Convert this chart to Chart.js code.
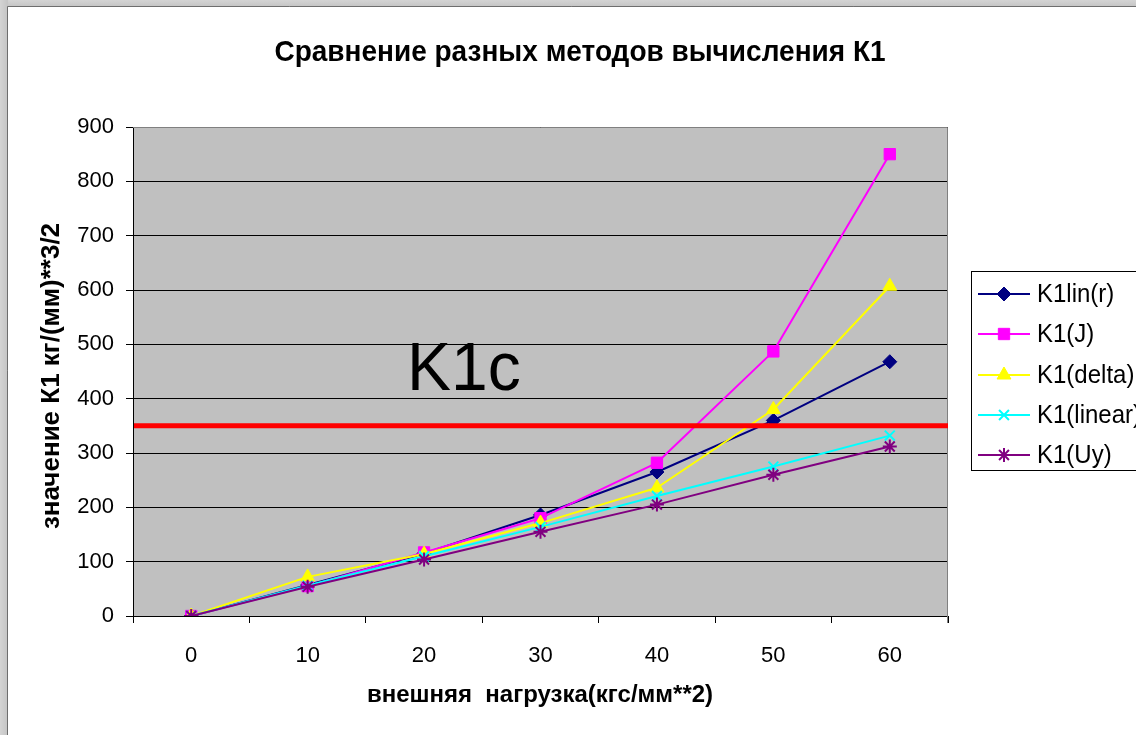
<!DOCTYPE html>
<html>
<head>
<meta charset="utf-8">
<title>Сравнение разных методов вычисления К1</title>
<script src="https://cdn.jsdelivr.net/npm/chart.js@4.4.0/dist/chart.umd.min.js"></script>
<style>
  html, body { margin: 0; padding: 0; background: #ffffff; }
  #wrap { position: relative; width: 1136px; height: 735px; }
</style>
</head>
<body>
<div id="wrap"><canvas id="c" width="1136" height="735"></canvas></div>
<script>
// External load, kgf/mm^2
const loads = ['0', '10', '20', '30', '40', '50', '60'];

// K1 values by each method, kgf/(mm)^(3/2)
const k1LinR   = [0, 57, 115, 186, 265, 360, 468];
const k1J      = [0, 55, 117, 180, 282, 487, 850];
const k1Delta  = [0, 72, 114, 171, 236, 380, 607];
const k1Linear = [0, 56, 110, 164, 221, 275, 332];
const k1Uy     = [0, 54, 104, 155, 205, 260, 312];

// Critical value K1c
const K1C = 350;

const seriesNames = ['K1lin(r)', 'K1(J)', 'K1(delta)', 'K1(linear)', 'K1(Uy)'];
const yTicks = [0, 100, 200, 300, 400, 500, 600, 700, 800, 900];

const FONT = '"Liberation Sans", Arial, Helvetica, sans-serif';

function series(label, data, color, style, radius, order) {
  const stroked = (style === 'crossRot' || style === 'star');
  return {
    label, data,
    borderColor: color,
    backgroundColor: color,
    borderWidth: 2,
    pointStyle: style,
    pointRadius: radius,
    pointHoverRadius: radius,
    pointBorderWidth: stroked ? 2 : 1,
    pointBorderColor: color,
    pointBackgroundColor: color,
    tension: 0,
    order
  };
}

const datasets = [
  series(seriesNames[0], k1LinR,   '#000080', 'rectRot',  7, 5),
  series(seriesNames[1], k1J,      '#FF00FF', 'rect',     8, 4),
  series(seriesNames[2], k1Delta,  '#FFFF00', 'triangle', 8, 3),
  series(seriesNames[3], k1Linear, '#00FFFF', 'crossRot', 7, 2),
  series(seriesNames[4], k1Uy,     '#800080', 'star',     7, 1)
];

const legendRows = [294, 334, 375, 415, 455];

// Text drawn with a slight vertical stretch, like the sheet's fonts
function tallText(ctx, text, x, y, sy) {
  ctx.save();
  ctx.translate(x, y);
  ctx.scale(1, sy);
  ctx.fillText(text, 0, 0);
  ctx.restore();
}

// Window frame, plot background, K1c line, titles and legend
const decor = {
  id: 'decor',
  beforeDraw(chart) {
    const ctx = chart.ctx;
    const W = chart.width, H = chart.height;
    ctx.save();
    ctx.fillStyle = '#ffffff';
    ctx.fillRect(0, 0, W, H);
    let g = ctx.createLinearGradient(0, 0, 0, 7);
    g.addColorStop(0, '#d4d4d4');
    g.addColorStop(1, '#c4c4c4');
    ctx.fillStyle = g;
    ctx.fillRect(0, 0, W, 7);
    g = ctx.createLinearGradient(0, 0, 8, 0);
    g.addColorStop(0, '#d4d4d4');
    g.addColorStop(1, '#c4c4c4');
    ctx.fillStyle = g;
    ctx.fillRect(0, 0, 8, H);
    ctx.strokeStyle = '#6e6e6e';
    ctx.lineWidth = 1;
    ctx.beginPath();
    ctx.moveTo(7.5, H); ctx.lineTo(7.5, 6.5); ctx.lineTo(W, 6.5);
    ctx.stroke();

    const a = chart.chartArea;
    ctx.fillStyle = '#C0C0C0';
    ctx.fillRect(a.left, a.top, a.right - a.left, a.bottom - a.top);
    ctx.restore();
  },
  beforeDatasetsDraw(chart) {
    const ctx = chart.ctx;
    const a = chart.chartArea;
    ctx.save();
    ctx.strokeStyle = '#808080';
    ctx.lineWidth = 1;
    ctx.beginPath();
    ctx.moveTo(a.left, a.top + 0.5);
    ctx.lineTo(a.right - 0.5, a.top + 0.5);
    ctx.lineTo(a.right - 0.5, a.bottom + 7);
    ctx.stroke();
    ctx.restore();
  },
  afterDatasetsDraw(chart) {
    const ctx = chart.ctx;
    const a = chart.chartArea;
    const yc = chart.scales.y.getPixelForValue(K1C);
    ctx.save();
    // K1c level
    ctx.strokeStyle = '#FF0000';
    ctx.lineWidth = 5;
    ctx.beginPath();
    ctx.moveTo(a.left + 1, yc);
    ctx.lineTo(a.right, yc);
    ctx.stroke();
    ctx.fillStyle = '#000000';
    ctx.font = '66px ' + FONT;
    ctx.textAlign = 'left';
    ctx.textBaseline = 'alphabetic';
    tallText(ctx, 'K1c', 407, yc - 36, 1.03);

    // chart title
    ctx.font = 'bold 28px ' + FONT;
    ctx.textAlign = 'center';
    ctx.textBaseline = 'middle';
    tallText(ctx, 'Сравнение разных методов вычисления К1', 580, 53, 1.05);

    // axis titles
    ctx.font = 'bold 24px ' + FONT;
    tallText(ctx, 'внешняя  нагрузка(кгс/мм**2)', 540, 695, 1.0);
    ctx.save();
    ctx.translate(52, 376);
    ctx.rotate(-Math.PI / 2);
    ctx.font = 'bold 26px ' + FONT;
    ctx.fillText('значение К1 кг/(мм)**3/2', 0, 0);
    ctx.restore();

    // legend box and entries
    ctx.strokeStyle = '#000000';
    ctx.lineWidth = 1;
    ctx.strokeRect(971.5, 271.5, 200, 199);
    ctx.textAlign = 'left';
    chart.data.datasets.forEach((ds, i) => {
      const ly = legendRows[i];
      ctx.strokeStyle = ds.borderColor;
      ctx.lineWidth = 2;
      ctx.beginPath();
      ctx.moveTo(978, ly);
      ctx.lineTo(1030, ly);
      ctx.stroke();
      ctx.fillStyle = '#000000';
      ctx.font = '24px ' + FONT;
      ctx.textBaseline = 'middle';
      tallText(ctx, ds.label, 1037, ly + 1, 1.05);
    });
    ctx.restore();
  },
  afterDraw(chart) {
    const ctx = chart.ctx;
    chart.data.datasets.forEach((ds, i) => {
      ctx.save();
      ctx.fillStyle = ds.borderColor;
      ctx.strokeStyle = ds.borderColor;
      ctx.lineWidth = ds.pointBorderWidth;
      Chart.helpers.drawPoint(ctx, {
        pointStyle: ds.pointStyle,
        radius: ds.pointRadius,
        rotation: 0,
        borderWidth: ds.pointBorderWidth
      }, 1004, legendRows[i]);
      ctx.restore();
    });
  }
};

new Chart(document.getElementById('c'), {
  type: 'line',
  data: { labels: loads, datasets },
  plugins: [decor],
  options: {
    responsive: false,
    animation: false,
    devicePixelRatio: 1,
    layout: { padding: { left: 0, top: 127, right: 188, bottom: 0 } },
    plugins: {
      legend: { display: false },
      title: { display: false },
      tooltip: { enabled: false }
    },
    elements: { line: { borderJoinStyle: 'round' } },
    scales: {
      x: {
        type: 'category',
        offset: true,
        afterFit(scale) { scale.height = 119; },
        grid: {
          offset: true,
          drawOnChartArea: false,
          drawTicks: true,
          tickLength: 7,
          color: '#000000',
          lineWidth: 1
        },
        border: { display: true, color: '#000000', width: 1 },
        ticks: {
          color: '#000000',
          font: { family: FONT, size: 22 },
          padding: 20,
          maxRotation: 0
        }
      },
      y: {
        min: 0,
        max: 900,
        afterFit(scale) { scale.width = 133; },
        afterBuildTicks(scale) { scale.ticks = yTicks.map(v => ({ value: v })); },
        grid: {
          color: '#000000',
          lineWidth: 1,
          tickLength: 7,
          drawTicks: true
        },
        border: { display: true, color: '#000000', width: 1 },
        ticks: {
          color: '#000000',
          font: { family: FONT, size: 22 },
          padding: 12
        }
      }
    }
  }
});
</script>
</body>
</html>
